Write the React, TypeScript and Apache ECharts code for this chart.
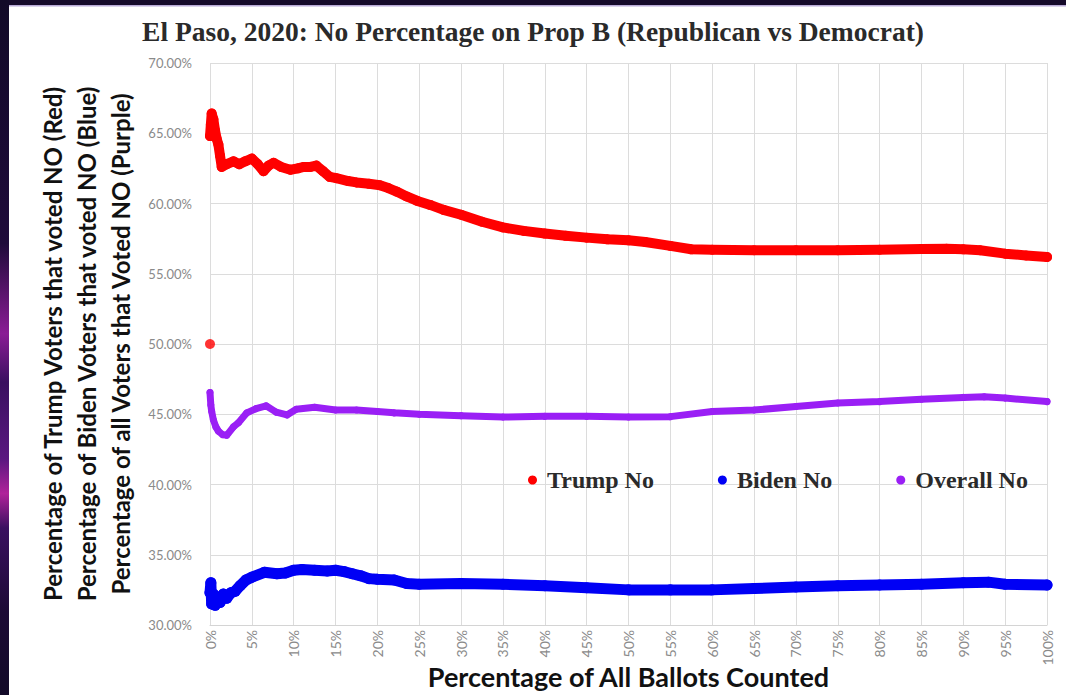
import React, { useEffect, useRef } from "react";
import * as echarts from "echarts";

const chartTitle = "El Paso, 2020: No Percentage on Prop B (Republican vs Democrat)";
const xAxisTitle = "Percentage of All Ballots Counted";
const yAxisTitleLines = [
  "Percentage of Trump Voters that voted NO (Red)",
  "Percentage of Biden Voters that voted NO (Blue)",
  "Percentage of all Voters that Voted NO (Purple)",
];
const seriesNames = ["Trump No", "Biden No", "Overall No"];

// [percentage of ballots counted, percentage voting NO]
const trumpNo: [number, number][] = [
  [0, 64.8], [0.1, 65.6], [0.2, 66.4], [0.4, 66.0], [0.6, 65.2], [0.8, 64.6], [1.0, 64.2],
  [1.2, 63.4], [1.4, 62.6], [2.0, 62.8], [2.8, 63.0], [3.5, 62.8], [4.2, 63.0], [5.0, 63.2],
  [5.7, 62.8], [6.4, 62.3], [7.0, 62.7], [7.6, 62.9], [8.5, 62.6], [9.6, 62.4], [10.5, 62.5],
  [11.2, 62.6], [12.0, 62.6], [12.7, 62.7], [13.5, 62.3], [14.3, 61.9], [15.1, 61.8], [16.5, 61.6],
  [17.5, 61.5], [19.0, 61.4], [20.3, 61.3], [21.3, 61.1], [22.3, 60.85], [23.5, 60.5], [24.7, 60.2],
  [26.3, 59.9], [27.9, 59.55], [30, 59.2], [32.5, 58.7], [35, 58.3], [37.5, 58.05], [40, 57.86],
  [42.5, 57.7], [45, 57.57], [47.5, 57.45], [50, 57.38], [52, 57.26], [55, 56.98], [57.5, 56.74],
  [60, 56.71], [65, 56.67], [70, 56.67], [75, 56.67], [80, 56.71], [85, 56.76], [88, 56.78],
  [90, 56.74], [92, 56.67], [95, 56.43], [97.5, 56.3], [100, 56.19],
];
const trumpOutlier: [number, number][] = [[0, 50.0]];

const bidenNo: [number, number][] = [
  [0, 32.3], [0.1, 33.0], [0.2, 31.5], [0.4, 32.2], [0.6, 31.4], [0.9, 32.0], [1.2, 31.6],
  [1.6, 32.2], [2.0, 31.9], [2.5, 32.3], [3.0, 32.4], [3.6, 32.8], [4.3, 33.2], [5.0, 33.4],
  [6.5, 33.75], [8.0, 33.65], [9.0, 33.7], [10, 33.9], [11, 33.95], [12.5, 33.9], [14, 33.85],
  [15, 33.9], [16, 33.8], [17, 33.65], [18, 33.5], [19, 33.3], [20, 33.25], [22, 33.2],
  [23.5, 32.95], [25, 32.9], [30, 32.95], [35, 32.9], [40, 32.8], [45, 32.65], [50, 32.5],
  [55, 32.5], [60, 32.5], [65, 32.6], [70, 32.7], [75, 32.8], [80, 32.85], [85, 32.9],
  [90, 33.0], [93, 33.05], [95, 32.9], [100, 32.85],
];

const overallNo: [number, number][] = [
  [0, 46.55], [0.1, 45.65], [0.2, 45.2], [0.4, 44.6], [0.7, 44.1], [1.0, 43.8], [1.5, 43.55],
  [2.0, 43.5], [2.8, 44.1], [3.4, 44.4], [4.4, 45.1], [5.5, 45.4], [6.7, 45.6], [7.9, 45.15],
  [9.2, 44.95], [10.3, 45.35], [12.5, 45.5], [15, 45.3], [17.5, 45.3], [20, 45.2], [22, 45.1],
  [25, 45.0], [30, 44.9], [35, 44.8], [40, 44.85], [45, 44.85], [50, 44.8], [55, 44.83],
  [60, 45.2], [65, 45.3], [70, 45.55], [75, 45.8], [80, 45.9], [85, 46.07], [90, 46.2],
  [92.5, 46.24], [95, 46.15], [100, 45.9],
];

const yMin = 30;
const yMax = 70;
const yStep = 5;
const xMin = 0;
const xMax = 100;
const xStep = 5;

const RED = "#ff0000";
const BLUE = "#0000f5";
const PURPLE = "#9a1ff5";

export default function App() {
  const ref = useRef<HTMLDivElement>(null);
  useEffect(() => {
    if (!ref.current) return;
    const chart = echarts.init(ref.current, null, { renderer: "svg" });
    const lineSeries = (name: string, data: [number, number][], color: string, width: number) => ({
      name,
      type: "line",
      data,
      color,
      symbol: "circle",
      symbolSize: width,
      showSymbol: true,
      lineStyle: { color, width, cap: "round", join: "round" },
      itemStyle: { color },
      emphasis: { disabled: true },
    });
    chart.setOption({
      animation: false,
      backgroundColor: "#ffffff",
      title: {
        text: chartTitle,
        left: "center",
        top: 12,
        textStyle: {
          fontFamily: "Liberation Serif",
          fontWeight: "bold",
          fontSize: 27.5,
          color: "#2a2a2a",
        },
      },
      graphic: [
        {
          type: "rect",
          shape: { x: 0, y: 0, width: 1066, height: 5 },
          style: { fill: "#150a2a" },
          silent: true,
        },
        {
          type: "rect",
          shape: { x: 9, y: 5, width: 1057, height: 1.5 },
          style: { fill: "#b8aad6" },
          silent: true,
        },
        {
          type: "rect",
          shape: { x: 0, y: 0, width: 9, height: 695 },
          style: {
            fill: new echarts.graphic.LinearGradient(0, 0, 0, 1, [
              { offset: 0, color: "#120a28" },
              { offset: 0.35, color: "#1f0b3a" },
              { offset: 0.48, color: "#8a1c95" },
              { offset: 0.55, color: "#3a1060" },
              { offset: 0.66, color: "#5a1880" },
              { offset: 0.71, color: "#b0229a" },
              { offset: 0.76, color: "#3a1060" },
              { offset: 0.88, color: "#1c0a35" },
              { offset: 1, color: "#120a28" },
            ]),
          },
          silent: true,
        },
      ],
      legend: {
        data: seriesNames,
        left: 523,
        top: 463,
        icon: "circle",
        itemWidth: 9,
        itemHeight: 9,
        itemGap: 64,
        textStyle: {
          fontFamily: "Liberation Serif",
          fontWeight: "bold",
          fontSize: 24,
          color: "#2a2a2a",
          padding: [0, 0, 0, 5],
        },
      },
      grid: { left: 210, right: 19, top: 63, bottom: 70, outerBoundsMode: "none", containLabel: false },
      xAxis: {
        type: "value",
        min: xMin,
        max: xMax,
        interval: xStep,
        name: xAxisTitle,
        nameLocation: "middle",
        nameGap: 38,
        nameMoveOverlap: false,
        nameTextStyle: {
          fontFamily: "Lato",
          fontWeight: "bold",
          fontSize: 27,
          color: "#111111",
        },
        axisLine: { show: true, lineStyle: { color: "#d4d4d4" } },
        axisTick: { show: false },
        axisLabel: {
          rotate: 90,
          margin: 5,
          formatter: (v: number) => `${v}%`,
          color: "#8a8a8a",
          fontSize: 14,
          fontFamily: "Lato",
        },
        splitLine: { show: true, lineStyle: { color: "#dcdcdc", width: 1 } },
      },
      yAxis: {
        type: "value",
        min: yMin,
        max: yMax,
        interval: yStep,
        name: yAxisTitleLines.join("\n"),
        nameLocation: "middle",
        nameGap: 73,
        nameMoveOverlap: false,
        nameTextStyle: {
          fontFamily: "Lato",
          fontWeight: "bold",
          fontSize: 24,
          lineHeight: 34,
          color: "#111111",
        },
        axisLine: { show: false },
        axisTick: { show: false },
        axisLabel: {
          margin: 18,
          formatter: (v: number) => `${v.toFixed(2)}%`,
          color: "#8a8a8a",
          fontSize: 13,
          fontFamily: "Lato",
        },
        splitLine: { show: true, lineStyle: { color: "#dcdcdc", width: 1 } },
      },
      series: [
        lineSeries(seriesNames[2], overallNo, PURPLE, 7),
        lineSeries(seriesNames[1], bidenNo, BLUE, 11),
        lineSeries(seriesNames[0], trumpNo, RED, 10),
        {
          name: seriesNames[0],
          type: "scatter",
          data: trumpOutlier,
          symbol: "circle",
          symbolSize: 10,
          itemStyle: { color: RED },
          emphasis: { disabled: true },
        },
      ],
    });
    return () => chart.dispose();
  }, []);
  return (
    <div
      ref={ref}
      style={{ position: "fixed", left: 0, top: 0, width: 1066, height: 695 }}
    />
  );
}
